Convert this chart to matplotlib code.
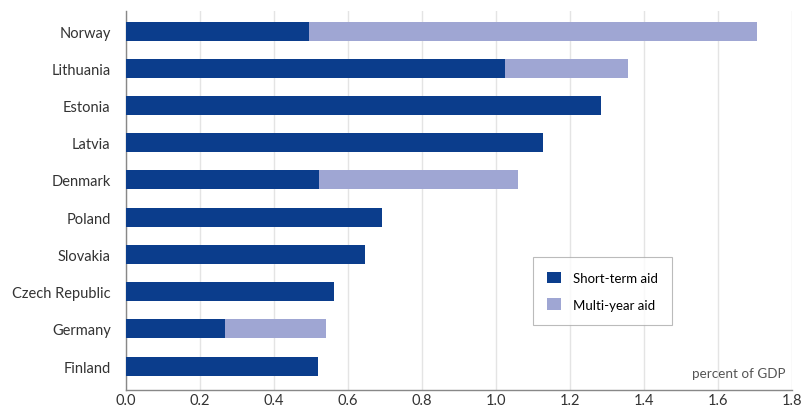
import matplotlib.pyplot as plt
import numpy as np

plt.rcParams['font.family'] = ['Lato', 'DejaVu Sans']

countries = ['Finland', 'Germany', 'Czech Republic', 'Slovakia', 'Poland',
             'Denmark', 'Latvia', 'Estonia', 'Lithuania', 'Norway']
short_term = [0.52, 0.268, 0.562, 0.646, 0.692, 0.522, 1.126, 1.283, 1.024, 0.495]
multi_year = [0.0, 0.272, 0.0, 0.0, 0.0, 0.537, 0.0, 0.0, 0.333, 1.21]
xticks = [0.0, 0.2, 0.4, 0.6, 0.8, 1.0, 1.2, 1.4, 1.6, 1.8]

dark = '#0b3d8c'
light = '#9fa6d3'

fig = plt.figure(figsize=(8.01, 4.10), dpi=100)
ax = fig.add_axes([0.1573, 0.0463, 0.8315, 0.9244])

y = np.arange(len(countries))
ax.barh(y, short_term, height=0.51, color=dark, label='Short-term aid', zorder=3)
ax.barh(y, multi_year, left=short_term, height=0.51, color=light,
        label='Multi-year aid', zorder=3)

ax.set_yticks(y)
ax.set_yticklabels(countries, fontsize=10.5, color='#333333')
ax.set_ylim(-0.645, 9.54)
ax.set_xlim(0, 1.8)
ax.set_xticks(xticks)
ax.set_xticklabels([f'{v:.1f}' for v in xticks], fontsize=10.5, color='#333333')
ax.tick_params(axis='y', length=0, pad=11)
ax.tick_params(axis='x', length=0, pad=2)

ax.grid(axis='x', color='#e4e4e4', linewidth=1, zorder=0)
for s in ['top', 'right']:
    ax.spines[s].set_visible(False)
for s in ['left', 'bottom']:
    ax.spines[s].set_color('#888888')
    ax.spines[s].set_linewidth(1)

ax.text(0.9895, 0.045, 'percent of GDP', transform=ax.transAxes,
        ha='right', va='center', fontsize=9.7, color='#555555')

leg = ax.legend(loc='upper left', bbox_to_anchor=(0.611, 0.351),
                fontsize=9.5, frameon=True, fancybox=False,
                handlelength=1.0, handleheight=1.0, borderpad=1.1,
                labelspacing=1.1, handletextpad=0.9, borderaxespad=0)
leg.get_frame().set_edgecolor('#aaaaaa')
leg.get_frame().set_linewidth(0.8)

fig.savefig('out.png', dpi=100)
